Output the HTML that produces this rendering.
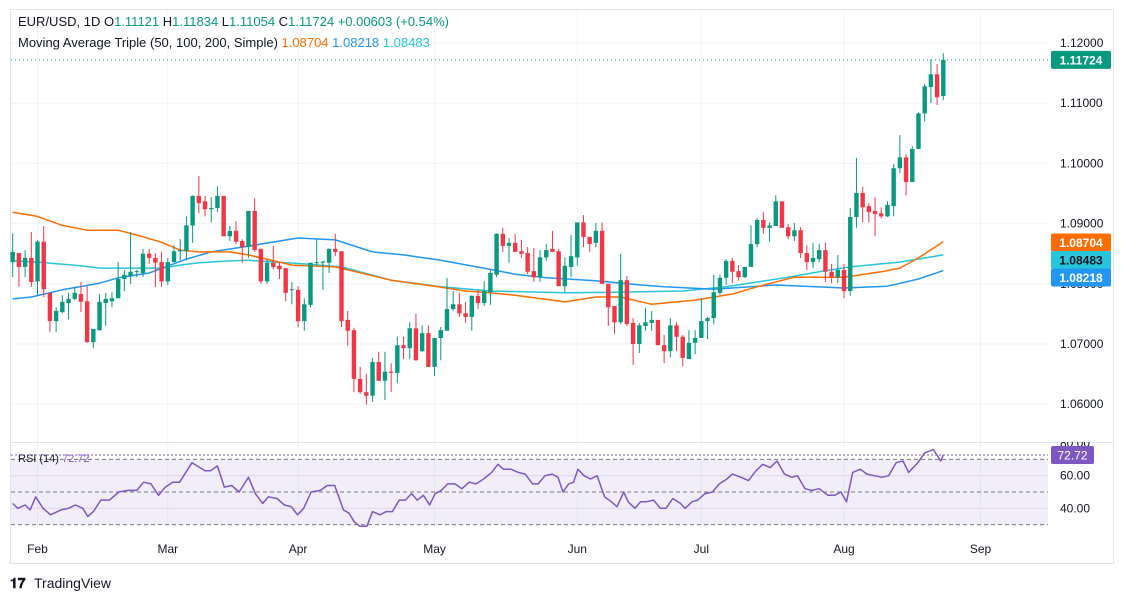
<!DOCTYPE html>
<html><head><meta charset="utf-8">
<style>
html,body{margin:0;padding:0;background:#fff;}
body{width:1123px;height:601px;overflow:hidden;font-family:"Liberation Sans",sans-serif;}
svg text{font-family:"Liberation Sans",sans-serif;}
</style></head>
<body>
<svg id="chart" width="1123" height="601" viewBox="0 0 1123 601" xmlns="http://www.w3.org/2000/svg">
<rect x="10.5" y="9.5" width="1103" height="554" fill="#fff" stroke="#e0e3eb"/>
<g id="grid"></g>
<rect id="rsiband" fill="#7e57c2" fill-opacity="0.1"/>
<g id="mas"></g>
<g id="candles"></g>
<g id="rsi"></g>
<g id="axes"></g>
<text x="18" y="26" font-size="13" fill="#131722">EUR/USD, 1D  O<tspan fill="#089981">1.11121</tspan>  H<tspan fill="#089981">1.11834</tspan>  L<tspan fill="#089981">1.11054</tspan>  C<tspan fill="#089981">1.11724</tspan>  <tspan fill="#089981">+0.00603 (+0.54%)</tspan></text>
<text x="18" y="47" font-size="13" fill="#131722">Moving Average Triple (50, 100, 200, Simple)  <tspan fill="#ff6d00">1.08704</tspan>  <tspan fill="#2196f3">1.08218</tspan>  <tspan fill="#26c6da">1.08483</tspan></text>
<text x="18" y="462" font-size="11" fill="#131722">RSI (14) <tspan fill="#7e57c2">72.72</tspan></text>
<g>
<text x="10" y="588" font-size="14" font-weight="bold" fill="#131722">𝟏𝟕</text>
<text x="34" y="588" font-size="14" fill="#131722">TradingView</text>
</g>
</svg>
<script>
const opens=[1.0836,1.0851,1.0828,1.0843,1.0804,1.0870,1.0785,1.0738,1.0753,1.0768,1.0775,1.0783,1.0771,1.0703,1.0723,1.0768,1.0771,1.0776,1.0808,1.0813,1.0820,1.0818,1.0850,1.0843,1.0836,1.0804,1.0836,1.0854,1.0854,1.0897,1.0946,1.0937,1.0924,1.0926,1.0946,1.0879,1.0888,1.0871,1.0861,1.0921,1.0858,1.0804,1.0835,1.0830,1.0826,1.0790,1.0790,1.0738,1.0765,1.0835,1.0835,1.0835,1.0858,1.0854,1.0740,1.0723,1.0642,1.0620,1.0614,1.0670,1.0639,1.0654,1.0652,1.0698,1.0693,1.0726,1.0688,1.0718,1.0662,1.0710,1.0722,1.0758,1.0766,1.0751,1.0745,1.0780,1.0768,1.0786,1.0815,1.0883,1.0863,1.0868,1.0854,1.0851,1.0821,1.0811,1.0844,1.0858,1.0854,1.0796,1.0828,1.0844,1.0902,1.0878,1.0868,1.0888,1.0800,1.0763,1.0736,1.0806,1.0735,1.0700,1.0730,1.0735,1.0740,1.0698,1.0688,1.0731,1.0712,1.0675,1.0702,1.0710,1.0738,1.0743,1.0785,1.0810,1.0838,1.0821,1.0811,1.0828,1.0866,1.0906,1.0893,1.0896,1.0937,1.0894,1.0879,1.0889,1.0851,1.0836,1.0841,1.0856,1.0820,1.0811,1.0823,1.0788,1.0911,1.0951,1.0929,1.0921,1.0917,1.0912,1.0929,1.0992,1.1010,1.0969,1.1024,1.1083,1.1127,1.1148,1.1112];
const highs=[1.0884,1.0851,1.0856,1.0886,1.0873,1.0896,1.0785,1.0761,1.0781,1.0785,1.0795,1.0803,1.0796,1.0725,1.0783,1.0785,1.0786,1.0836,1.0823,1.0886,1.0823,1.0858,1.0858,1.0851,1.0853,1.0843,1.0864,1.0874,1.0912,1.0947,1.0979,1.0946,1.0944,1.0962,1.0946,1.0896,1.0904,1.0874,1.0921,1.0942,1.0858,1.0841,1.0863,1.0836,1.0826,1.0803,1.0796,1.0776,1.0835,1.0874,1.0838,1.0859,1.0883,1.0854,1.0755,1.0727,1.0662,1.0650,1.0677,1.0687,1.0687,1.0668,1.0712,1.0712,1.0736,1.0750,1.0731,1.0731,1.0710,1.0728,1.0810,1.0788,1.0785,1.0770,1.0781,1.0790,1.0804,1.0823,1.0884,1.0893,1.0876,1.0883,1.0873,1.0861,1.0859,1.0856,1.0866,1.0888,1.0858,1.0844,1.0881,1.0902,1.0914,1.0878,1.0901,1.0902,1.0800,1.0763,1.0850,1.0813,1.0743,1.0735,1.0760,1.0755,1.0740,1.0715,1.0743,1.0736,1.0715,1.0723,1.0723,1.0776,1.0745,1.0815,1.0815,1.0841,1.0843,1.0831,1.0828,1.0897,1.0909,1.0919,1.0902,1.0947,1.0937,1.0899,1.0901,1.0894,1.0864,1.0868,1.0866,1.0868,1.0833,1.0848,1.0833,1.0926,1.1009,1.0961,1.0934,1.0944,1.0927,1.0937,1.0999,1.1047,1.1015,1.1029,1.1085,1.1132,1.1173,1.1165,1.1183];
const lows=[1.0811,1.0795,1.0811,1.0795,1.0780,1.0778,1.0720,1.0720,1.0751,1.0741,1.0773,1.0753,1.0702,1.0693,1.0722,1.0730,1.0761,1.0776,1.0788,1.0800,1.0811,1.0811,1.0833,1.0795,1.0795,1.0798,1.0836,1.0839,1.0839,1.0868,1.0917,1.0912,1.0902,1.0919,1.0879,1.0871,1.0866,1.0835,1.0843,1.0853,1.0800,1.0800,1.0824,1.0808,1.0771,1.0766,1.0728,1.0722,1.0761,1.0831,1.0790,1.0818,1.0846,1.0728,1.0697,1.0620,1.0617,1.0599,1.0604,1.0639,1.0607,1.0620,1.0635,1.0675,1.0675,1.0672,1.0687,1.0662,1.0647,1.0673,1.0722,1.0755,1.0745,1.0735,1.0722,1.0758,1.0763,1.0765,1.0811,1.0853,1.0835,1.0853,1.0843,1.0816,1.0803,1.0803,1.0838,1.0853,1.0796,1.0786,1.0811,1.0830,1.0861,1.0853,1.0861,1.0800,1.0730,1.0717,1.0733,1.0730,1.0665,1.0685,1.0722,1.0722,1.0698,1.0668,1.0678,1.0688,1.0663,1.0675,1.0683,1.0710,1.0708,1.0733,1.0781,1.0798,1.0801,1.0805,1.0810,1.0828,1.0861,1.0883,1.0870,1.0896,1.0893,1.0874,1.0871,1.0843,1.0823,1.0826,1.0836,1.0803,1.0801,1.0801,1.0776,1.0780,1.0893,1.0902,1.0902,1.0879,1.0909,1.0911,1.0912,1.0984,1.0947,1.0969,1.1024,1.1070,1.1100,1.1097,1.1105];
const closes=[1.0853,1.0828,1.0843,1.0803,1.0870,1.0791,1.0738,1.0755,1.0770,1.0775,1.0785,1.0770,1.0703,1.0725,1.0770,1.0775,1.0776,1.0808,1.0815,1.0820,1.0821,1.0850,1.0843,1.0835,1.0804,1.0836,1.0854,1.0856,1.0897,1.0946,1.0934,1.0924,1.0926,1.0946,1.0879,1.0888,1.0870,1.0861,1.0921,1.0856,1.0804,1.0835,1.0828,1.0824,1.0785,1.0791,1.0738,1.0766,1.0835,1.0836,1.0837,1.0858,1.0853,1.0738,1.0722,1.0642,1.0620,1.0614,1.0670,1.0639,1.0654,1.0652,1.0698,1.0693,1.0726,1.0673,1.0718,1.0662,1.0710,1.0723,1.0758,1.0766,1.0751,1.0745,1.0780,1.0768,1.0788,1.0818,1.0883,1.0863,1.0868,1.0853,1.0850,1.0820,1.0811,1.0844,1.0856,1.0853,1.0796,1.0830,1.0846,1.0902,1.0878,1.0866,1.0888,1.0800,1.0761,1.0736,1.0806,1.0733,1.0700,1.0731,1.0736,1.0740,1.0698,1.0688,1.0731,1.0712,1.0677,1.0702,1.0710,1.0738,1.0743,1.0786,1.0810,1.0838,1.0820,1.0811,1.0828,1.0866,1.0906,1.0893,1.0897,1.0937,1.0893,1.0879,1.0889,1.0851,1.0836,1.0843,1.0856,1.0820,1.0811,1.0823,1.0788,1.0911,1.0951,1.0927,1.0919,1.0916,1.0912,1.0931,1.0992,1.1010,1.0969,1.1024,1.1083,1.1128,1.1148,1.1110,1.1172];
const ma50Idx=[0,4,8,12,17,20,24,27,30,35,38,45,52,61,68,73,77,81,89,94,98,103,110,116,120,126,134,140,143,146,150];
const ma50Val=[1.0919,1.0912,1.0897,1.0889,1.0889,1.0881,1.0869,1.0856,1.0853,1.0853,1.0848,1.0831,1.0828,1.0806,1.0796,1.0788,1.0785,1.0781,1.0770,1.0778,1.0778,1.0766,1.0773,1.0783,1.0795,1.0811,1.0811,1.0820,1.0826,1.0843,1.0870];
const ma100Idx=[0,3,8,14,17,22,28,32,37,46,52,58,63,69,77,81,86,94,99,105,113,123,134,141,146,150];
const ma100Val=[1.0775,1.0778,1.0790,1.0801,1.0810,1.0818,1.0841,1.0853,1.0861,1.0876,1.0873,1.0853,1.0848,1.0839,1.0824,1.0816,1.0810,1.0805,1.0800,1.0795,1.0791,1.0798,1.0793,1.0796,1.0808,1.0822];
const ma200Idx=[0,4,11,14,19,24,27,30,35,38,47,53,61,69,77,89,97,108,115,125,130,135,143,150];
const ma200Val=[1.0838,1.0836,1.0830,1.0826,1.0826,1.0826,1.0831,1.0835,1.0838,1.0839,1.0833,1.0828,1.0806,1.0795,1.0788,1.0785,1.0786,1.0788,1.0795,1.0811,1.0820,1.0828,1.0836,1.0848];
const rsiIdx=[0,0.8,2.0,2.8,3.7,4.9,6.1,7.8,9.0,10.1,11.3,12.1,13.0,14.2,15.6,17.1,18.6,20.0,21.1,22.3,23.5,24.6,25.8,26.9,28.9,31.0,31.9,33.0,34.1,35.3,36.5,38.0,39.1,40.3,41.2,42.6,43.8,44.9,45.9,46.9,48.1,49.6,50.7,51.9,53.3,54.2,55.0,55.9,57.1,58.0,59.2,60.2,61.2,62.3,63.3,64.3,65.2,66.2,67.2,68.1,69.1,70.1,71.3,72.4,73.6,74.7,75.9,77.2,78.2,79.1,80.3,81.5,82.6,83.8,84.7,85.8,87.0,87.9,88.7,89.6,90.4,91.1,92.1,93.1,94.2,95.4,96.5,97.4,98.5,99.2,100.3,101.2,102.1,103.3,104.4,105.3,106.4,107.6,108.4,109.5,110.4,111.6,112.8,113.9,115.1,116.0,117.4,118.6,119.8,120.9,122.1,123.2,124.4,125.6,126.5,127.7,128.8,130.0,131.4,132.5,133.5,134.4,135.4,136.6,137.7,138.9,140.1,141.2,142.4,143.5,144.4,145.9,147.0,148.4,149.6,150];
const rsiVals=[43,40,42,39,47,40,36,39,40,42,40,35,38,45,45,50,51,51,56,55,48,53,56,56,68,63,63,66,53,54,50,59,49,43,47,46,42,41,36,40,50,51,54,54,39,37,32,29,29,38,36,38,38,45,45,49,45,48,42,49,51,55,55,52,56,55,58,62,67,64,64,62,61,55,55,60,61,59,50,55,56,64,60,58,60,47,44,41,50,44,40,44,44,45,40,40,46,43,40,44,45,49,50,55,58,61,59,57,63,67,65,69,61,59,60,52,51,52,48,48,50,44,62,64,61,60,59,60,68,69,62,68,74,76,69,72.72];
const priceTicks=[1.12,1.11,1.10,1.09,1.08,1.07,1.06];
const rsiTicks=[80,60,40];
const monthLabels=['Feb','Mar','Apr','May','Jun','Jul','Aug','Sep'];
const monthIdx=[4,25,46,68,91,111,134,156];
const tagLabels=['1.11724','1.08704','1.08483','1.08218'];

const NS='http://www.w3.org/2000/svg';
const X0=12.7, DX=6.204, PANE_R=1048;
const xOf=i=>X0+i*DX;
const yOf=p=>43+(1.12-p)*6020;
const rY=v=>492-(v-50)*1.63;
function mk(tag,attrs,parent){const e=document.createElementNS(NS,tag);for(const k in attrs)e.setAttribute(k,attrs[k]);parent.appendChild(e);return e;}
const grid=document.getElementById('grid');
const axes=document.getElementById('axes');
priceTicks.forEach(p=>{const l=mk('line',{x1:11,x2:PANE_R,y1:yOf(p),y2:yOf(p),stroke:'#f0f3fa'},grid);

});
[60,40].forEach(v=>{const l=mk('line',{x1:11,x2:PANE_R,y1:rY(v),y2:rY(v),stroke:'#e8e3f3'},grid);

});
monthIdx.forEach(i=>{const l=mk('line',{x1:xOf(i),x2:xOf(i),y1:10,y2:530,stroke:'#f0f3fa'},grid);

});
mk('line',{x1:11,x2:1113,y1:442.5,y2:442.5,stroke:'#e0e3eb'},grid);
const band=document.getElementById('rsiband');
band.setAttribute('x',11);band.setAttribute('width',PANE_R-11);
band.setAttribute('y',rY(70));band.setAttribute('height',rY(30)-rY(70));
const mas=document.getElementById('mas');
function maLine(idx,val,color,name){const d=idx.map((i,k)=>(k?'L':'M')+xOf(i).toFixed(1)+' '+yOf(val[k]).toFixed(1)).join(' ');
const p=mk('path',{d:d,fill:'none',stroke:color,'stroke-width':1.5,'stroke-linejoin':'round'},mas);

}
maLine(ma200Idx,ma200Val,'#26c6da','ma-200-line');
maLine(ma100Idx,ma100Val,'#2196f3','ma-100-line');
maLine(ma50Idx,ma50Val,'#ff6d00','ma-50-line');
const cg=document.getElementById('candles');
closes.forEach((c,i)=>{const o=opens[i],up=c>=o,col=up?'#089981':'#f23645',x=xOf(i);
const g=mk('g',{},cg);


mk('line',{x1:x,x2:x,y1:yOf(highs[i]),y2:yOf(lows[i]),stroke:col,'stroke-width':1},g);
const t=yOf(Math.max(o,c)),b=yOf(Math.min(o,c));
mk('rect',{x:x-2.2,y:t,width:4.4,height:Math.max(1,b-t),fill:col},g);});
const lp=closes[closes.length-1];
const lpl=mk('line',{x1:11,x2:PANE_R,y1:yOf(lp),y2:yOf(lp),stroke:'#089981','stroke-dasharray':'1 3'},axes);


const rg=document.getElementById('rsi');
[70,50,30].forEach(v=>{const l=mk('line',{x1:11,x2:PANE_R,y1:rY(v),y2:rY(v),stroke:'#787b86','stroke-dasharray':'4 3'},rg);

});
const n=rsiVals.length;
const rd=rsiVals.map((v,k)=>(k?'L':'M')+xOf(rsiIdx[k]).toFixed(1)+' '+rY(v).toFixed(1)).join(' ');
const rp=mk('path',{d:rd,fill:'none',stroke:'#7e57c2','stroke-width':1.5,'stroke-linejoin':'round'},rg);


const rv=rsiVals[n-1];
const rl=mk('line',{x1:11,x2:PANE_R,y1:rY(rv),y2:rY(rv),stroke:'#7e57c2','stroke-dasharray':'2 2'},rg);


priceTicks.forEach(p=>{const t=mk('text',{x:1060,y:yOf(p)+4,'font-size':12,fill:'#131722'},axes);t.textContent=p.toFixed(5);

});
rsiTicks.forEach(v=>{const t=mk('text',{x:1060,y:rY(v)+4,'font-size':12,fill:'#131722'},axes);t.textContent=v.toFixed(2);

});
mk('rect',{x:1048,y:430,width:65,height:12,fill:'#fff'},axes);
monthLabels.forEach((m,k)=>{const t=mk('text',{x:xOf(monthIdx[k]),y:553,'font-size':12,fill:'#131722','text-anchor':'middle'},axes);t.textContent=m;

});
function tag(y,txt,bg,fg,name){const g=mk('g',{},axes);


mk('rect',{x:1051,y:y-9,width:60,height:18,rx:2,fill:bg},g);
const t=mk('text',{x:1081,y:y+4.5,'font-size':12,fill:fg,'text-anchor':'middle','font-weight':'bold'},g);t.textContent=txt;}
tag(yOf(lp),tagLabels[0],'#089981','#fff','last-price-tag');
tag(242.5,tagLabels[1],'#ff6d00','#fff','ma-50-tag');
tag(260,tagLabels[2],'#26c6da','#131722','ma-200-tag');
tag(277.5,tagLabels[3],'#2196f3','#fff','ma-100-tag');
const rt=mk('g',{},axes);


mk('rect',{x:1051,y:rY(rv)-9,width:43,height:18,rx:2,fill:'#7e57c2'},rt);
const rtt=mk('text',{x:1072.5,y:rY(rv)+4.5,'font-size':12,fill:'#fff','text-anchor':'middle'},rt);rtt.textContent=rv.toFixed(2);
</script>
</body></html>
